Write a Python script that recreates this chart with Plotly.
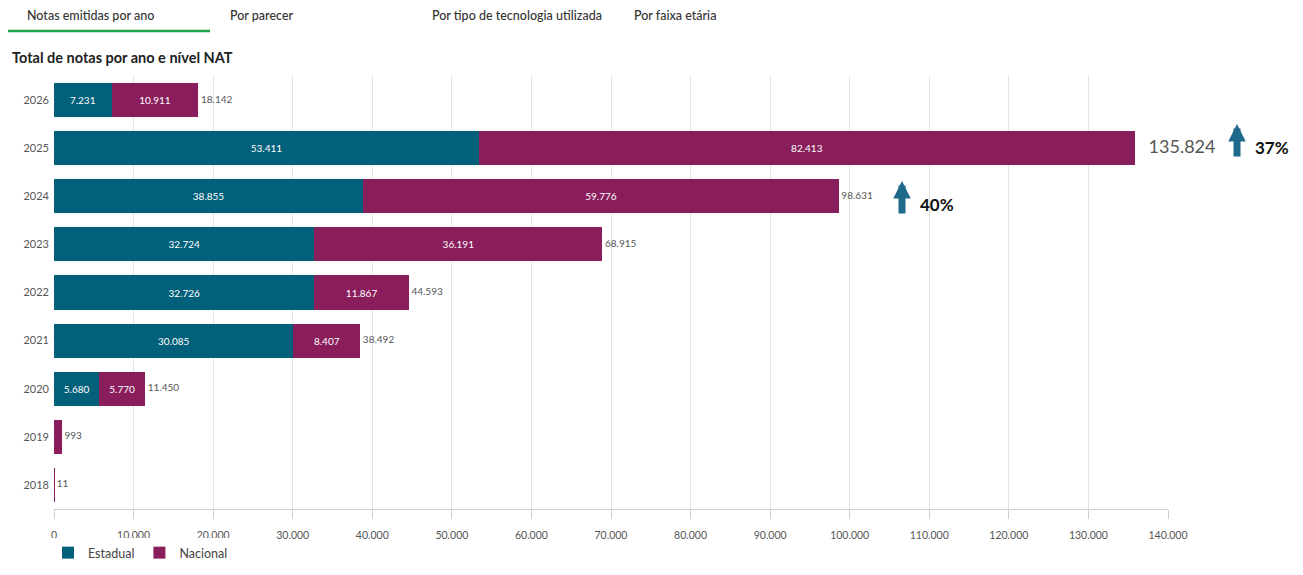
import plotly.graph_objects as go

years = ["2018", "2019", "2020", "2021", "2022", "2023", "2024", "2025", "2026"]
estadual = [0, 25, 5680, 30085, 32726, 32724, 38855, 53411, 7231]
nacional = [11, 968, 5770, 8407, 11867, 36191, 59776, 82413, 10911]
totals = [11, 993, 11450, 38492, 44593, 68915, 98631, 135824, 18142]
x_ticks = list(range(0, 140001, 10000))
tabs = ["Notas emitidas por ano", "Por parecer", "Por tipo de tecnologia utilizada", "Por faixa etária"]
growth = ["40%", "37%"]

TEAL = "#03607a"
PLUM = "#8a1e5c"
FONT = "Lato"


def fmt(v):
    return f"{v:,}".replace(",", ".")


def inside(vals):
    return [fmt(v) if v >= 3000 else "" for v in vals]


fig = go.Figure()
fig.add_trace(go.Bar(
    y=years, x=estadual, orientation="h", name="Estadual",
    marker=dict(color=TEAL, line=dict(width=0)),
    text=inside(estadual), textposition="inside", insidetextanchor="middle",
    textfont=dict(color="white", size=10, family=FONT), constraintext="none", textangle=0,
    hoverinfo="skip",
))
fig.add_trace(go.Bar(
    y=years, x=nacional, orientation="h", name="Nacional",
    marker=dict(color=PLUM, line=dict(width=0)),
    text=inside(nacional), textposition="inside", insidetextanchor="middle",
    textfont=dict(color="white", size=10, family=FONT), constraintext="none", textangle=0,
    hoverinfo="skip",
))
fig.add_trace(go.Scatter(
    y=years, x=totals, mode="text",
    text=[("   " if y == "2025" else " ") + fmt(t) for y, t in zip(years, totals)],
    textposition="middle right",
    textfont=dict(color=["#555"] * 9, size=[18 if y == "2025" else 10 for y in years], family=FONT),
    showlegend=False, cliponaxis=False, hoverinfo="skip",
))

# Page body adds an 8px offset; reference plot area is x 54..1168, y 76..509
def px(xp):
    return (xp - 54) / 1114


def py(yp):
    return (509 - yp) / 433


annotations = []
tab_x = [25, 228, 430, 632]
for t, x in zip(tabs, tab_x):
    annotations.append(dict(text=t, x=px(x), y=py(15), xref="paper", yref="paper",
                            xanchor="left", yanchor="middle", showarrow=False,
                            font=dict(family=FONT, size=12.5, color="#333", weight=500)))
annotations.append(dict(text="Total de notas por ano e nível NAT", x=px(10), y=py(57),
                        xref="paper", yref="paper", xanchor="left", yanchor="middle",
                        showarrow=False, font=dict(family=FONT, size=14.5, color="#222", weight=700),
                        ))
# arrows
for (xa, ytop, ybot, xt, yt, label) in [(902, 181, 215, 918, 204, growth[0]),
                                       (1237, 124, 158, 1253, 147, growth[1])]:
    annotations.append(dict(x=px(xa), y=py(ytop), ax=0, ay=ybot - ytop, xref="paper", yref="paper",
                            axref="pixel", ayref="pixel", text="", showarrow=True,
                            arrowhead=2, arrowsize=0.5, arrowwidth=7, arrowcolor="#1f6a8a"))
    annotations.append(dict(text="<b>" + label + "</b>", x=px(xt), y=py(yt), xref="paper", yref="paper",
                            xanchor="left", yanchor="middle", showarrow=False,
                            font=dict(family=FONT, size=17, color="#111")))

shapes = [dict(type="line", xref="paper", yref="paper", x0=px(8), x1=px(210), y0=py(31), y1=py(31),
               line=dict(color="#1fa34a", width=2.5))]

fig.update_layout(
    barmode="stack", bargap=0.29,
    width=1287, height=559,
    margin=dict(l=46, r=127, t=68, b=58, autoexpand=False),
    paper_bgcolor="white", plot_bgcolor="white",
    separators=",.",
    font=dict(family=FONT, color="#555"),
    xaxis=dict(range=[0, 140000], tickvals=x_ticks, ticktext=[fmt(v) for v in x_ticks],
               showgrid=True, gridcolor="#e4e4e4", gridwidth=1, zeroline=False,
               showline=True, linecolor="#cfcfcf", ticks="outside", ticklen=9, tickcolor="#cfcfcf",
               tickfont=dict(size=10.5, color="#555", family=FONT), fixedrange=True, automargin=False,
               ticklabelstandoff=7),
    yaxis=dict(type="category", categoryorder="array", categoryarray=years,
               showgrid=False, zeroline=False, showline=False, ticks="", automargin=False,
               tickfont=dict(size=11, color="#555", family=FONT), ticklabelstandoff=4),
    legend=dict(orientation="h", x=px(48), y=py(568), xanchor="left", yanchor="bottom",
                font=dict(size=12.5, color="#444", family=FONT), itemwidth=30, traceorder="normal"),
    annotations=annotations, shapes=shapes,
    showlegend=True,
)

fig.write_html("out.html")
